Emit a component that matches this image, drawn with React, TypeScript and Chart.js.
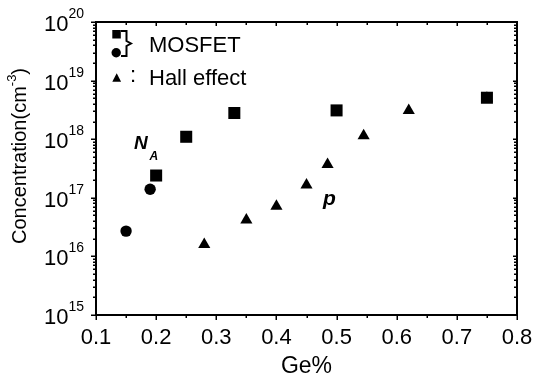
import { useEffect, useRef } from "react";
import { Chart, registerables } from "chart.js";

Chart.register(...registerables);

const FONT = "'Liberation Sans', Arial, Helvetica, sans-serif";

// MOSFET (squares)
const mosfetSquareX = [0.2, 0.25, 0.33, 0.5, 0.75];
const mosfetSquareY = [2.4e17, 1.1e18, 2.8e18, 3.1e18, 5.1e18];
// MOSFET (circles)
const mosfetCircleX = [0.15, 0.19];
const mosfetCircleY = [2.7e16, 1.4e17];
// Hall effect (triangles)
const hallX = [0.28, 0.35, 0.4, 0.45, 0.485, 0.545, 0.62, 0.75];
const hallY = [1.6e16, 4.2e16, 7.2e16, 1.65e17, 3.7e17, 1.15e18, 3.1e18, 5.0e18];

// axes
const xTickValues = [0.1, 0.2, 0.3, 0.4, 0.5, 0.6, 0.7, 0.8];
const xTickLabels = ["0.1", "0.2", "0.3", "0.4", "0.5", "0.6", "0.7", "0.8"];
const xMinorValues = [0.15, 0.25, 0.35, 0.45, 0.55, 0.65, 0.75];
const yDecadeExponents = [15, 16, 17, 18, 19, 20];
const yMinorMultipliers = [2, 3, 4, 5, 6, 7, 8, 9];

const xAxisTitle = "Ge%";
const yAxisTitleMain = "Concentration(cm";
const yAxisTitleSup = "-3";
const yAxisTitleEnd = ")";
const legendMosfet = "MOSFET";
const legendHall = "Hall effect";

const toPoints = (xs: number[], ys: number[]) => xs.map((x, i) => ({ x, y: ys[i] }));

const overlay = {
  id: "overlay",
  afterDraw(chart: any) {
    const ctx: CanvasRenderingContext2D = chart.ctx;
    const ca = chart.chartArea;
    const L = Math.round(ca.left);
    const T = Math.round(ca.top);
    const R = Math.round(ca.right);
    const B = Math.round(ca.bottom);
    const xs = chart.scales.x;
    const ys = chart.scales.y;
    ctx.save();
    ctx.fillStyle = "#000000";

    // frame, 2px
    ctx.fillRect(L - 1, T - 1, R - L + 2, 2);
    ctx.fillRect(L - 1, B - 1, R - L + 2, 2);
    ctx.fillRect(L - 1, T - 1, 2, B - T + 2);
    ctx.fillRect(R - 1, T - 1, 2, B - T + 2);

    const vTick = (px: number, y1: number, y2: number) => {
      ctx.fillRect(Math.round(px) - 0.5, Math.min(y1, y2), 1.5, Math.abs(y2 - y1));
    };
    const hTick = (py: number, x1: number, x2: number) => {
      ctx.fillRect(Math.min(x1, x2), Math.round(py) - 0.5, Math.abs(x2 - x1), 1.5);
    };
    xTickValues.forEach((v) => {
      const px = xs.getPixelForValue(v);
      vTick(px, B, B + 5);
      vTick(px, T, T + 4);
    });
    xMinorValues.forEach((v) => {
      const px = xs.getPixelForValue(v);
      vTick(px, B, B + 3);
      vTick(px, T, T + 3);
    });
    yDecadeExponents.forEach((e, i) => {
      const py = ys.getPixelForValue(Math.pow(10, e));
      hTick(py, L - 5, L);
      hTick(py, R - 4, R);
      if (i < yDecadeExponents.length - 1) {
        yMinorMultipliers.forEach((m) => {
          const pm = ys.getPixelForValue(m * Math.pow(10, e));
          hTick(pm, L - 3, L);
          hTick(pm, R - 3, R);
        });
      }
    });

    // x tick labels
    ctx.font = `22px ${FONT}`;
    ctx.textAlign = "center";
    ctx.textBaseline = "alphabetic";
    xTickValues.forEach((v, i) => {
      ctx.fillText(xTickLabels[i], xs.getPixelForValue(v), B + 29);
    });

    // y tick labels 10^n
    yDecadeExponents.forEach((e) => {
      const py = ys.getPixelForValue(Math.pow(10, e));
      ctx.font = `14px ${FONT}`;
      const sup = String(e);
      const supW = ctx.measureText(sup).width;
      const endX = L - 12;
      ctx.textAlign = "left";
      ctx.fillText(sup, endX - supW, py - 4);
      ctx.font = `22px ${FONT}`;
      ctx.textAlign = "right";
      ctx.fillText("10", endX - supW, py + 9);
    });

    // x axis title
    ctx.font = `23px ${FONT}`;
    ctx.textAlign = "center";
    ctx.fillText(xAxisTitle, (L + R) / 2, 373);

    // y axis title (rotated)
    ctx.save();
    ctx.translate(26, 156);
    ctx.rotate(-Math.PI / 2);
    ctx.textAlign = "left";
    ctx.font = `20px ${FONT}`;
    const wMain = ctx.measureText(yAxisTitleMain).width;
    const wEnd = ctx.measureText(yAxisTitleEnd).width;
    ctx.font = `13px ${FONT}`;
    const wSup = ctx.measureText(yAxisTitleSup).width;
    const total = wMain + wSup + wEnd;
    let cx = -total / 2;
    ctx.font = `20px ${FONT}`;
    ctx.fillText(yAxisTitleMain, cx, 0);
    cx += wMain;
    ctx.font = `13px ${FONT}`;
    ctx.fillText(yAxisTitleSup, cx, -10);
    cx += wSup;
    ctx.font = `20px ${FONT}`;
    ctx.fillText(yAxisTitleEnd, cx, 0);
    ctx.restore();

    // legend markers
    ctx.fillRect(112.3, 30, 8.5, 8.5);
    ctx.beginPath();
    ctx.arc(116.2, 52.8, 4.7, 0, Math.PI * 2);
    ctx.fill();
    ctx.beginPath();
    ctx.moveTo(116.7, 73.2);
    ctx.lineTo(112.3, 81.8);
    ctx.lineTo(121.1, 81.8);
    ctx.closePath();
    ctx.fill();
    // brace
    ctx.strokeStyle = "#000000";
    ctx.lineWidth = 2;
    ctx.beginPath();
    ctx.moveTo(121, 31);
    ctx.lineTo(126.5, 31);
    ctx.lineTo(126.5, 41);
    ctx.lineTo(131, 43.5);
    ctx.lineTo(126.5, 46);
    ctx.lineTo(126.5, 56);
    ctx.lineTo(121, 56);
    ctx.stroke();

    ctx.textAlign = "left";
    ctx.font = `22px ${FONT}`;
    ctx.fillText(":", 130, 82);
    ctx.fillText(legendMosfet, 149, 51.7);
    ctx.fillText(legendHall, 149, 85);

    // annotations
    ctx.font = `bold italic 19px ${FONT}`;
    ctx.fillText("N", 134, 149.3);
    ctx.font = `bold italic 12px ${FONT}`;
    ctx.fillText("A", 149.5, 160);
    ctx.font = `bold italic 21px ${FONT}`;
    ctx.fillText("p", 323, 205);

    ctx.restore();
  },
};

export default function App() {
  const ref = useRef<HTMLCanvasElement | null>(null);
  useEffect(() => {
    if (!ref.current) return;
    const chart = new Chart(ref.current, {
      type: "scatter",
      data: {
        datasets: [
          {
            label: "MOSFET squares",
            data: toPoints(mosfetSquareX, mosfetSquareY),
            pointStyle: "rect",
            pointRadius: 8.5,
            backgroundColor: "#000",
            borderWidth: 0,
          },
          {
            label: "MOSFET circles",
            data: toPoints(mosfetCircleX, mosfetCircleY),
            pointStyle: "circle",
            pointRadius: 5.7,
            backgroundColor: "#000",
            borderWidth: 0,
          },
          {
            label: "Hall effect",
            data: toPoints(hallX, hallY),
            pointStyle: "triangle",
            pointRadius: 7,
            backgroundColor: "#000",
            borderWidth: 0,
          },
        ],
      },
      options: {
        responsive: false,
        animation: false,
        devicePixelRatio: 1,
        layout: { padding: { top: 22, right: 18, left: 0, bottom: 0 } },
        plugins: { legend: { display: false }, tooltip: { enabled: false } },
        scales: {
          x: {
            type: "linear",
            min: 0.1,
            max: 0.8,
            ticks: { display: false },
            grid: { display: false },
            border: { display: true, color: "#000", width: 1.5 },
            afterFit: (s: any) => {
              s.height = 66;
            },
          },
          y: {
            type: "logarithmic",
            min: 1e15,
            max: 1e20,
            ticks: { display: false },
            grid: { display: false },
            border: { display: true, color: "#000", width: 1.5 },
            afterFit: (s: any) => {
              s.width = 96;
            },
          },
        },
      } as any,
      plugins: [overlay],
    });
    return () => chart.destroy();
  }, []);
  return (
    <div style={{ position: "absolute", left: 0, top: 0, width: 535, height: 381, background: "#fff" }}>
      <canvas ref={ref} width={535} height={381} style={{ display: "block" }} />
    </div>
  );
}
